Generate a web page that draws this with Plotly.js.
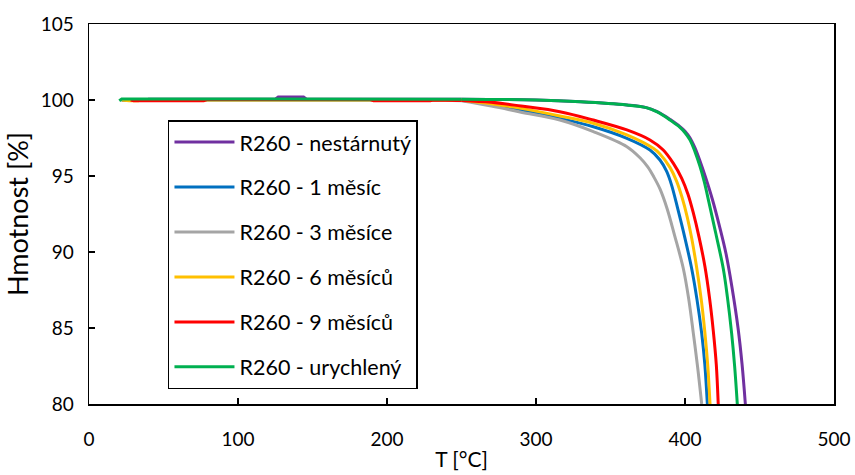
<!DOCTYPE html>
<html>
<head>
<meta charset="utf-8">
<script src="https://cdn.plot.ly/plotly-3.0.1.min.js"></script>
<style>html,body{margin:0;padding:0;background:#fff;}#chart{width:855px;height:475px;}</style>
</head>
<body>
<div id="chart"></div>
<script>
// Series names and colours
const seriesNames = ["R260 - nestárnutý", "R260 - 1 měsíc", "R260 - 3 měsíce", "R260 - 6 měsíců", "R260 - 9 měsíců", "R260 - urychlený"];
const seriesColors = ["#7030A0", "#0070C0", "#A5A5A5", "#FFC000", "#FF0000", "#00B050"];

// Flat (plateau) part: temperature [°C], mass [%]
const tPurpleFlat = [22, 25, 38, 40, 125, 127, 144, 146, 250];
const mPurpleFlat = [100.0, 99.97, 99.97, 100.05, 100.05, 100.2, 100.2, 100.05, 100.05];
const tBlueFlat = [22, 225, 227, 229, 245, 247, 250];
const mBlueFlat = [100.0, 100.0, 99.96, 99.96, 99.97, 100.0, 99.98];
const tGrayFlat = [22, 184, 186, 229, 231, 250];
const mGrayFlat = [100.0, 100.0, 99.96, 99.96, 100.0, 99.95];
const tYellowFlat = [22, 27, 33, 35, 250];
const mYellowFlat = [100.0, 99.95, 99.95, 100.0, 100.0];
const tRedFlat = [28, 30, 77, 79, 189, 191, 229, 231, 247, 250];
const mRedFlat = [100.0, 99.95, 99.95, 100.03, 100.03, 99.95, 99.95, 100.0, 99.97, 99.97];
const tGreenFlat = [20.3, 22, 250];
const mGreenFlat = [99.95, 100.07, 100.05];

// Decomposition part: temperature [°C], mass [%]
const tPurpleDrop = [250, 300, 330, 361, 374, 381, 386, 390, 396.6, 400, 403.4, 406.7, 410, 414, 418.5, 423, 427.5, 431.5, 435.6, 438.3, 440.5];
const mPurpleDrop = [100.05, 100.0, 99.88, 99.67, 99.5, 99.25, 98.98, 98.72, 98.25, 97.95, 97.5, 96.85, 96.0, 94.85, 93.42, 91.75, 89.9, 87.7, 85.0, 82.6, 80.0];
const tBlueDrop = [250, 270, 290, 316, 338.5, 361, 376.5, 383.2, 387.7, 391, 395, 400, 404.5, 408, 411.2, 413.3, 415];
const mBlueDrop = [99.98, 99.7, 99.35, 98.8, 98.24, 97.48, 96.71, 96.05, 95.3, 94.4, 92.9, 90.9, 88.9, 86.9, 84.65, 82.6, 80.0];
const tGrayDrop = [250, 270, 290, 316, 338.5, 361, 369.8, 375, 379, 383.2, 388, 393, 398.9, 402.5, 405.6, 408.5, 411.2];
const mGrayDrop = [99.95, 99.6, 99.2, 98.68, 97.92, 96.93, 96.2, 95.6, 94.95, 94.15, 92.85, 91.1, 88.9, 86.9, 84.65, 82.4, 80.0];
const tYellowDrop = [250, 270, 290, 316, 338.5, 361, 378.7, 383.2, 390, 394.4, 398, 401.5, 404.5, 407.8, 411, 413.4, 415.3, 416.8];
const mYellowDrop = [100.0, 99.75, 99.45, 98.95, 98.47, 97.7, 96.82, 96.45, 95.55, 94.65, 93.6, 92.3, 90.9, 89.0, 86.8, 84.65, 82.5, 80.0];
const tRedDrop = [250, 270, 290, 316, 338.5, 361, 376.5, 385.4, 392.2, 397.8, 402, 405.5, 409.5, 413.4, 416.5, 419, 421, 422.3];
const mRedDrop = [99.97, 99.85, 99.6, 99.23, 98.68, 98.03, 97.37, 96.71, 95.83, 94.85, 93.8, 92.6, 90.95, 89.03, 86.95, 84.8, 82.6, 80.0];
const tGreenDrop = [250, 300, 330, 361, 374, 381, 386, 390, 396.6, 400, 403.4, 406.7, 410, 413, 416, 420.5, 425.7, 428.5, 431.3, 433.3, 435.1];
const mGreenDrop = [100.05, 100.0, 99.88, 99.67, 99.5, 99.23, 98.95, 98.68, 98.2, 97.85, 97.37, 96.6, 95.65, 94.6, 93.3, 91.3, 88.9, 87.0, 84.65, 82.5, 80.0];

const xTicks = [0, 100, 200, 300, 400, 500];
const yTicks = [80, 85, 90, 95, 100, 105];

const flatX = [tPurpleFlat, tBlueFlat, tGrayFlat, tYellowFlat, tRedFlat, tGreenFlat];
const flatY = [mPurpleFlat, mBlueFlat, mGrayFlat, mYellowFlat, mRedFlat, mGreenFlat];
const dropX = [tPurpleDrop, tBlueDrop, tGrayDrop, tYellowDrop, tRedDrop, tGreenDrop];
const dropY = [mPurpleDrop, mBlueDrop, mGrayDrop, mYellowDrop, mRedDrop, mGreenDrop];

const font = "Lato, 'Open Sans', sans-serif";
const traces = [];
seriesNames.forEach((n, i) => {
  traces.push({
    x: flatX[i], y: flatY[i], name: n, type: "scatter", mode: "lines",
    legendgroup: "g" + i, showlegend: false, hoverinfo: "skip",
    line: {color: seriesColors[i], width: 3, shape: "linear"}
  });
  traces.push({
    x: dropX[i], y: dropY[i], name: n, type: "scatter", mode: "lines",
    legendgroup: "g" + i, showlegend: true,
    line: {color: seriesColors[i], width: 3, shape: "spline", smoothing: 1}
  });
});

const layout = {
  width: 855, height: 475,
  margin: {l: 89, r: 21, t: 24, b: 71},
  paper_bgcolor: "#fff", plot_bgcolor: "#fff",
  font: {family: font, size: 19, color: "#000"},
  showlegend: true,
  legend: {
    x: 0.106, y: 0.747, xanchor: "left", yanchor: "top",
    bgcolor: "#fff", bordercolor: "#000", borderwidth: 1.5,
    font: {family: font, size: 21.5, color: "#000"},
    tracegroupgap: 14, itemwidth: 60, traceorder: "grouped"
  },
  xaxis: {
    range: [0, 500], tickvals: xTicks, ticktext: xTicks.map(String),
    ticks: "inside", ticklen: 6, tickwidth: 1.5, tickcolor: "#000",
    showline: true, mirror: true, linecolor: "#000", linewidth: 1.5,
    showgrid: false, zeroline: false, ticklabelstandoff: 18,
    title: {text: "T [°C]", font: {family: font, size: 21}, standoff: 3}
  },
  yaxis: {
    range: [80, 105], tickvals: yTicks, ticktext: yTicks.map(String),
    ticks: "inside", ticklen: 6, tickwidth: 1.5, tickcolor: "#000",
    showline: true, mirror: true, linecolor: "#000", linewidth: 1.5,
    showgrid: false, zeroline: false, ticklabelstandoff: 10,
    title: {text: "Hmotnost [%]", font: {family: font, size: 27}, standoff: 4}
  }
};

Plotly.newPlot("chart", traces, layout, {displayModeBar: false, staticPlot: true});
</script>
</body>
</html>
